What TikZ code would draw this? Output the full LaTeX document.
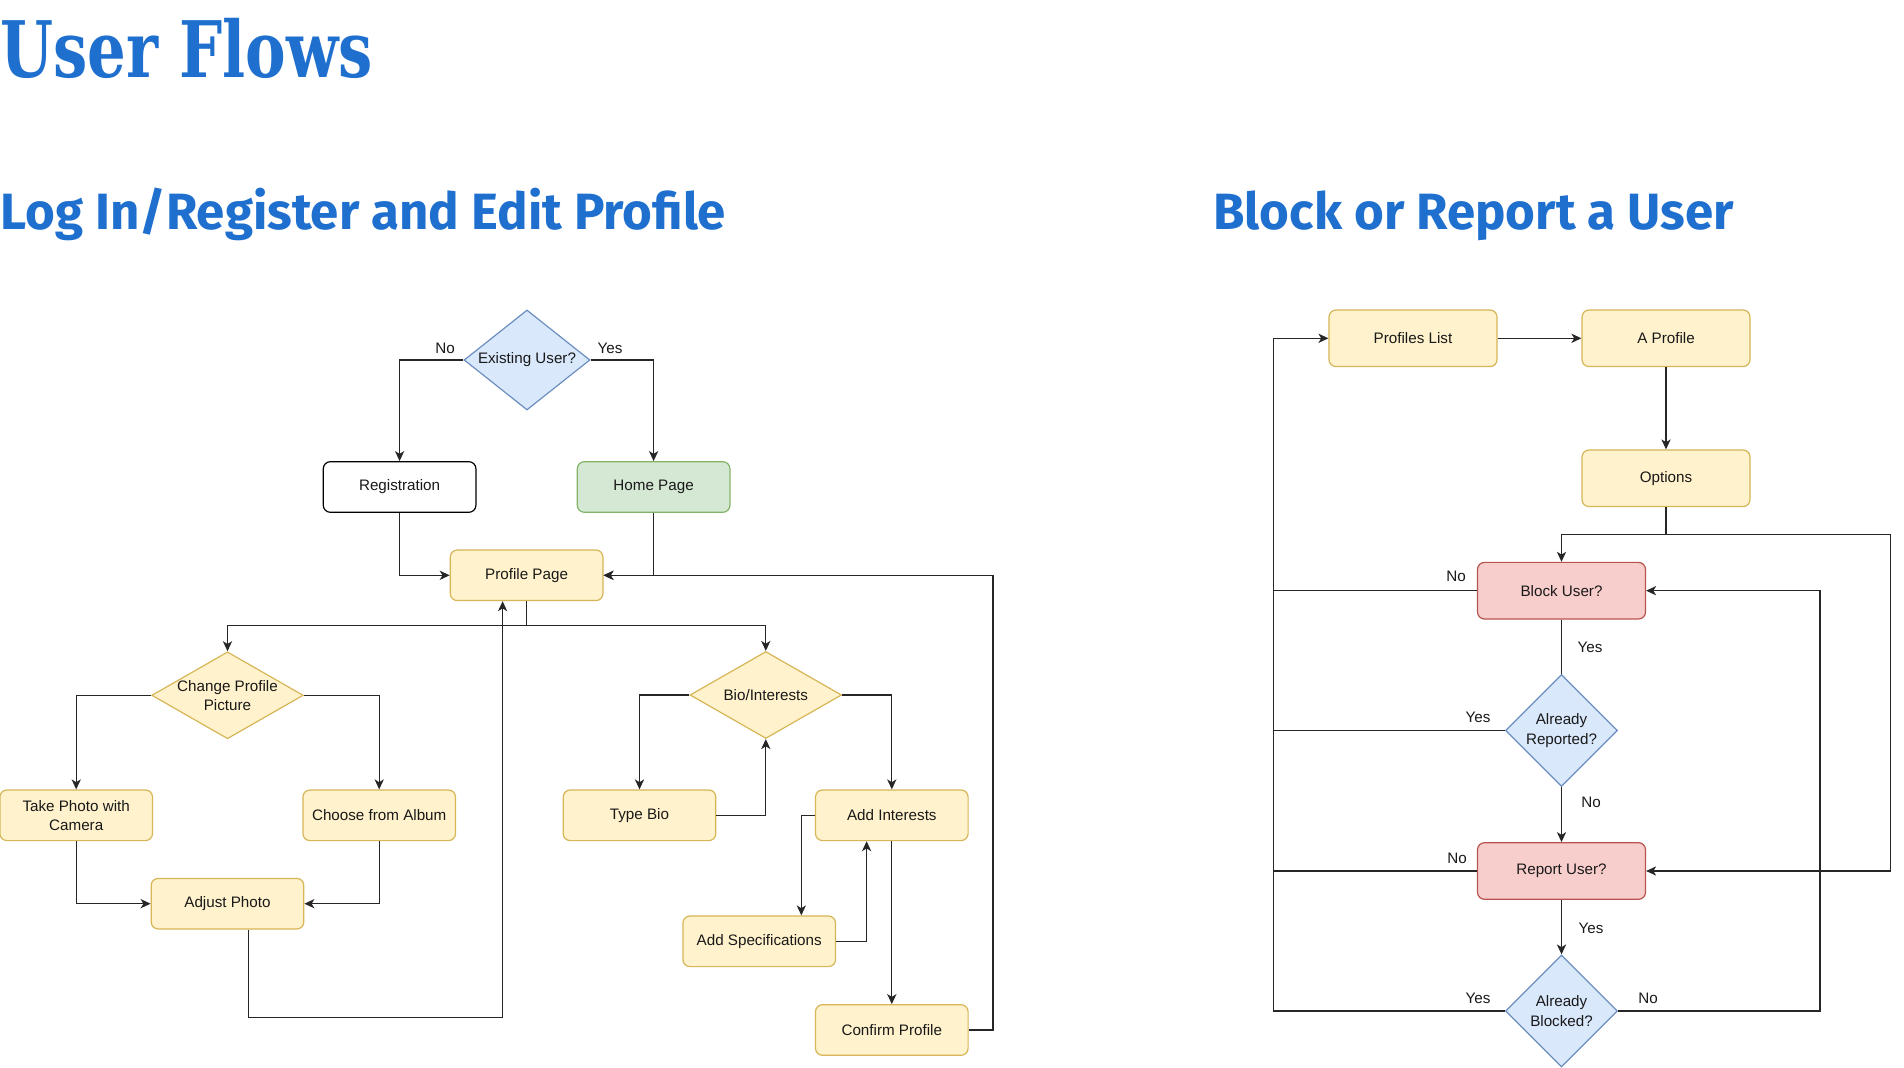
\documentclass[tikz,border=0pt]{standalone}
\usepackage{fontspec}
\setmainfont{Liberation Sans}
\newfontfamily\titlefont{DejaVu Serif}
\newfontfamily\headfont{Fira Sans}
\usetikzlibrary{shapes.geometric,arrows.meta}
\definecolor{heading}{RGB}{31,111,207}
\definecolor{note}{RGB}{255,242,204}
\definecolor{noteline}{RGB}{214,182,86}
\definecolor{question}{RGB}{218,232,252}
\definecolor{questionline}{RGB}{108,142,191}
\definecolor{home}{RGB}{213,232,212}
\definecolor{homeline}{RGB}{130,179,102}
\definecolor{alert}{RGB}{248,206,204}
\definecolor{alertline}{RGB}{184,84,80}
\newcommand\boxfont{\fontsize{7.6}{9.7}\selectfont}
\tikzstyle{box}=[rectangle, rounded corners=3.5pt, draw=noteline, fill=note, line width=0.6pt, minimum width=76.3pt, minimum height=25.3pt, align=center, font=\boxfont, text=black!90, inner sep=1pt]
\tikzstyle{bigbox}=[box, minimum width=84pt, minimum height=28.3pt]
\tikzstyle{choice}=[diamond, draw=noteline, fill=note, line width=0.6pt, inner sep=-3pt, aspect=1.74, minimum width=75.8pt, minimum height=43.5pt, align=center, font=\boxfont, text=black!90]
\tikzstyle{ask}=[choice, draw=questionline, fill=question]
\tikzstyle{tag}=[inner sep=0pt, font=\boxfont, text=black!90]
\tikzstyle{plainline}=[line width=0.65pt, draw=black!85]
\tikzstyle{arrowline}=[plainline, -{Stealth[length=5pt,width=4.6pt,inset=1.4pt]}]

\begin{document}
\begin{tikzpicture}[x=0.5pt,y=-0.5pt]
  \useasboundingbox (0,0) rectangle (1904,1068);

  %% Headings
  \draw (0,78) node[anchor=base west, inner sep=0pt, text=heading] (title) {\scalebox{0.78}[1]{\titlefont\bfseries\fontsize{39}{44}\selectfont User Flows}};
  \draw (0,230) node[anchor=base west, inner sep=0pt, text=heading] (loginhead) {\headfont\bfseries\fontsize{25.5}{30}\selectfont Log In/Register and Edit Profile};
  \draw (1213,230) node[anchor=base west, inner sep=0pt, text=heading] (blockhead) {\headfont\bfseries\fontsize{25.5}{30}\selectfont Block or Report a User};

  %% Log in / register and edit profile
  \draw (527,360) node[ask, minimum width=63pt, minimum height=50pt, aspect=1.26] (existing) {Existing User?};
  \draw (399.6,487) node[box, draw=black, fill=white] (registration) {Registration};
  \draw (653.6,487) node[box, draw=homeline, fill=home] (home) {Home Page};
  \draw (526.6,575.3) node[box] (profile) {Profile Page};

  \draw (227.5,695.3) node[choice] (picture) {Change Profile\\Picture};
  \draw (76.2,815.3) node[box] (camera) {Take Photo with\\Camera};
  \draw (379.2,815.3) node[box] (album) {Choose from Album};
  \draw (227.5,903.7) node[box] (adjust) {Adjust Photo};

  \draw (765.8,695) node[choice] (bio) {Bio/Interests};
  \draw (639.5,815.3) node[box] (typebio) {Type Bio};
  \draw (891.8,815.3) node[box] (interests) {Add Interests};
  \draw (759.2,941.3) node[box] (specs) {Add Specifications};
  \draw (891.8,1030) node[box] (confirm) {Confirm Profile};

  \coordinate (return) at (993,0);

  \draw[arrowline] (existing.west) -| (registration.north);
  \draw[arrowline] (existing.east) -| (home.north);
  \draw[arrowline] (registration.south) |- (profile.west);
  \draw[arrowline] (home.south) |- (profile.east);
  \draw[arrowline] (confirm.east) -- (confirm.east -| return) |- (profile.east);

  \path (profile.south) ++(0,24.5) coordinate (split);
  \draw[plainline] (profile.south) -- (split);
  \draw[arrowline] (split) -| (picture.north);
  \draw[arrowline] (split) -| (bio.north);

  \draw[arrowline] (picture.west) -| (camera.north);
  \draw[arrowline] (picture.east) -| (album.north);
  \draw[arrowline] (camera.south) |- (adjust.west);
  \draw[arrowline] (album.south) |- (adjust.east);
  \draw[arrowline] ([xshift=10.4pt]adjust.south) -- ++(0,88) -| ([xshift=-12pt]profile.south);

  \draw[arrowline] (bio.west) -| (typebio.north);
  \draw[arrowline] (typebio.east) -| (bio.south);
  \draw[arrowline] (bio.east) -| (interests.north);
  \draw[arrowline] (interests.west) -| ([xshift=-6.8pt]specs.north -| interests.west);
  \draw[arrowline] (specs.east) -| ([xshift=-12.6pt]interests.south);
  \draw[arrowline] (interests.south) -- (confirm.north);

  \draw (445,348) node[tag] (existingno) {No};
  \draw (610,348) node[tag] (existingyes) {Yes};

  %% Block or report a user
  \draw (1413,338.3) node[bigbox] (list) {Profiles List};
  \draw (1666,338.3) node[bigbox] (aprofile) {A Profile};
  \draw (1666,478.3) node[bigbox] (options) {Options};
  \draw (1561.5,590.7) node[bigbox, draw=alertline, fill=alert] (block) {Block User?};
  \draw (1561.5,730.5) node[ask, minimum width=56pt, minimum height=56pt, aspect=1] (reported) {Already\\Reported?};
  \draw (1561.5,871) node[bigbox, draw=alertline, fill=alert] (report) {Report User?};
  \draw (1561.5,1011) node[ask, minimum width=56pt, minimum height=56pt, aspect=1] (blocked) {Already\\Blocked?};

  \coordinate (back) at (1273.5,0);
  \coordinate (inner) at (1820,0);
  \coordinate (outer) at (1890.5,0);

  \draw[arrowline] (list.east) -- (aprofile.west);
  \draw[arrowline] (aprofile.south) -- (options.north);
  \path (options.south) ++(0,27.5) coordinate (fork);
  \draw[plainline] (options.south) -- (fork);
  \draw[arrowline] (fork) -| (block.north);
  \draw[arrowline] (fork) -- (fork -| outer) |- (report.east);

  \draw[plainline] (block.south) -- (reported.north);
  \draw[arrowline] (reported.south) -- (report.north);
  \draw[arrowline] (report.south) -- (blocked.north);

  \draw[plainline] (block.west) -- (block.west -| back);
  \draw[plainline] (reported.west) -- (reported.west -| back);
  \draw[plainline] (report.west) -- (report.west -| back);
  \draw[arrowline] (blocked.west) -- (blocked.west -| back) |- (list.west);
  \draw[arrowline] (blocked.east) -- (blocked.east -| inner) |- (block.east);

  \draw (1456,576) node[tag] (blockno) {No};
  \draw (1590,647) node[tag] (blockyes) {Yes};
  \draw (1478,717) node[tag] (reportedyes) {Yes};
  \draw (1591,802) node[tag] (reportedno) {No};
  \draw (1457,858) node[tag] (reportno) {No};
  \draw (1591,928) node[tag] (reportyes) {Yes};
  \draw (1478,998) node[tag] (blockedyes) {Yes};
  \draw (1648,998) node[tag] (blockedno) {No};
\end{tikzpicture}
\end{document}
